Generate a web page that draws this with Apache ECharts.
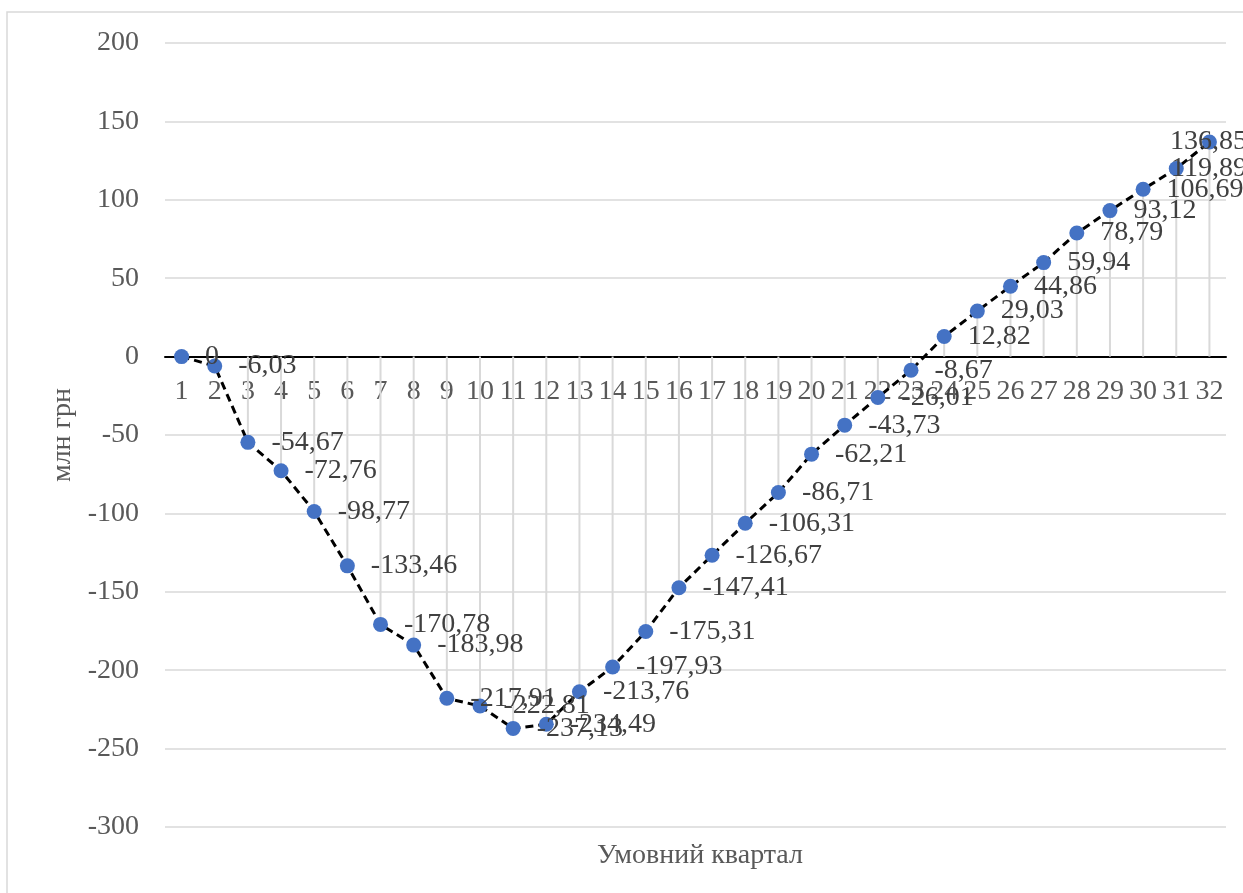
<!DOCTYPE html>
<html>
<head>
<meta charset="utf-8">
<script src="https://cdn.jsdelivr.net/npm/echarts@6/dist/echarts.min.js"></script>
<style>
    html, body { margin: 0; padding: 0; background: #ffffff; }
    #main { width: 1243px; height: 893px; }
</style>
</head>
<body>
<div id="main"></div>
<script>
    // квартали та накопичений результат, млн грн
    const quarters = ['1', '2', '3', '4', '5', '6', '7', '8', '9', '10', '11', '12', '13', '14', '15', '16',
        '17', '18', '19', '20', '21', '22', '23', '24', '25', '26', '27', '28', '29', '30', '31', '32'];
    const values = [0, -6.03, -54.67, -72.76, -98.77, -133.46, -170.78, -183.98, -217.91, -222.81,
        -237.13, -234.49, -213.76, -197.93, -175.31, -147.41, -126.67, -106.31, -86.71, -62.21,
        -43.73, -26.01, -8.67, 12.82, 29.03, 44.86, 59.94, 78.79, 93.12, 106.69, 119.89, 136.85];
    const yMin = -300, yMax = 200, yStep = 50;

    const FONT = 'Liberation Serif';
    const W = 1243, H = 893;
    const gridTop = 43, gridBottom = 66;
    // вісь категорій проходить через нуль
    const plotH = H - gridTop - gridBottom;
    const zeroFromBottom = plotH * (0 - yMin) / (yMax - yMin);

    const chart = echarts.init(document.getElementById('main'));

    const option = {
        backgroundColor: '#ffffff',
        animation: false,
        textStyle: { fontFamily: FONT },
        graphic: [{
            type: 'rect',
            shape: { x: 7, y: 12, width: 1400, height: 1000 },
            style: { fill: 'none', stroke: '#d9d9d9', lineWidth: 1.5 },
            silent: true
        }],
        title: {
            text: 'Умовний квартал',
            left: 695,
            top: 837,
            textAlign: 'center',
            textStyle: { fontFamily: FONT, fontSize: 28, fontWeight: 'normal', color: '#595959' }
        },
        grid: { left: 165, right: 17, top: gridTop, bottom: gridBottom },
        xAxis: {
            type: 'category',
            data: quarters,
            boundaryGap: true,
            offset: -zeroFromBottom,
            axisLine: { onZero: false, lineStyle: { color: '#000000', width: 2 } },
            axisTick: { show: false },
            axisLabel: { fontFamily: FONT, fontSize: 28, color: '#595959', margin: 21, interval: 0 },
            splitLine: { show: false }
        },
        yAxis: {
            type: 'value',
            min: yMin,
            max: yMax,
            interval: yStep,
            name: 'млн грн',
            nameLocation: 'middle',
            nameRotate: 90,
            nameGap: 85,
            nameTextStyle: { fontFamily: FONT, fontSize: 28, color: '#595959' },
            axisLine: { show: false },
            axisTick: { show: false },
            axisLabel: { fontFamily: FONT, fontSize: 28, color: '#595959', margin: 26 },
            splitLine: { lineStyle: { color: '#d9d9d9', width: 1.5 } }
        },
        series: [
            {
                // вертикальні лінії від точки до осі
                type: 'bar',
                data: values,
                barWidth: 2,
                silent: true,
                z: 1,
                itemStyle: { color: '#d9d9d9' }
            },
            {
                type: 'line',
                data: values,
                z: 3,
                symbol: 'circle',
                symbolSize: 15,
                itemStyle: { color: '#4472C4' },
                lineStyle: { color: '#000000', width: 3, type: [8, 5] },
                label: {
                    show: true,
                    position: 'right',
                    distance: 16,
                    offset: [0, 5],
                    fontFamily: FONT,
                    fontSize: 28,
                    color: '#404040',
                    formatter: p => String(p.value).replace('.', ',')
                },
                labelLayout: function (params) {
                    const r = params.labelRect;
                    const over = r.x + r.width - (W + 4);
                    return over > 0 ? { dx: -over } : {};
                }
            }
        ]
    };

    chart.setOption(option);
</script>
</body>
</html>
